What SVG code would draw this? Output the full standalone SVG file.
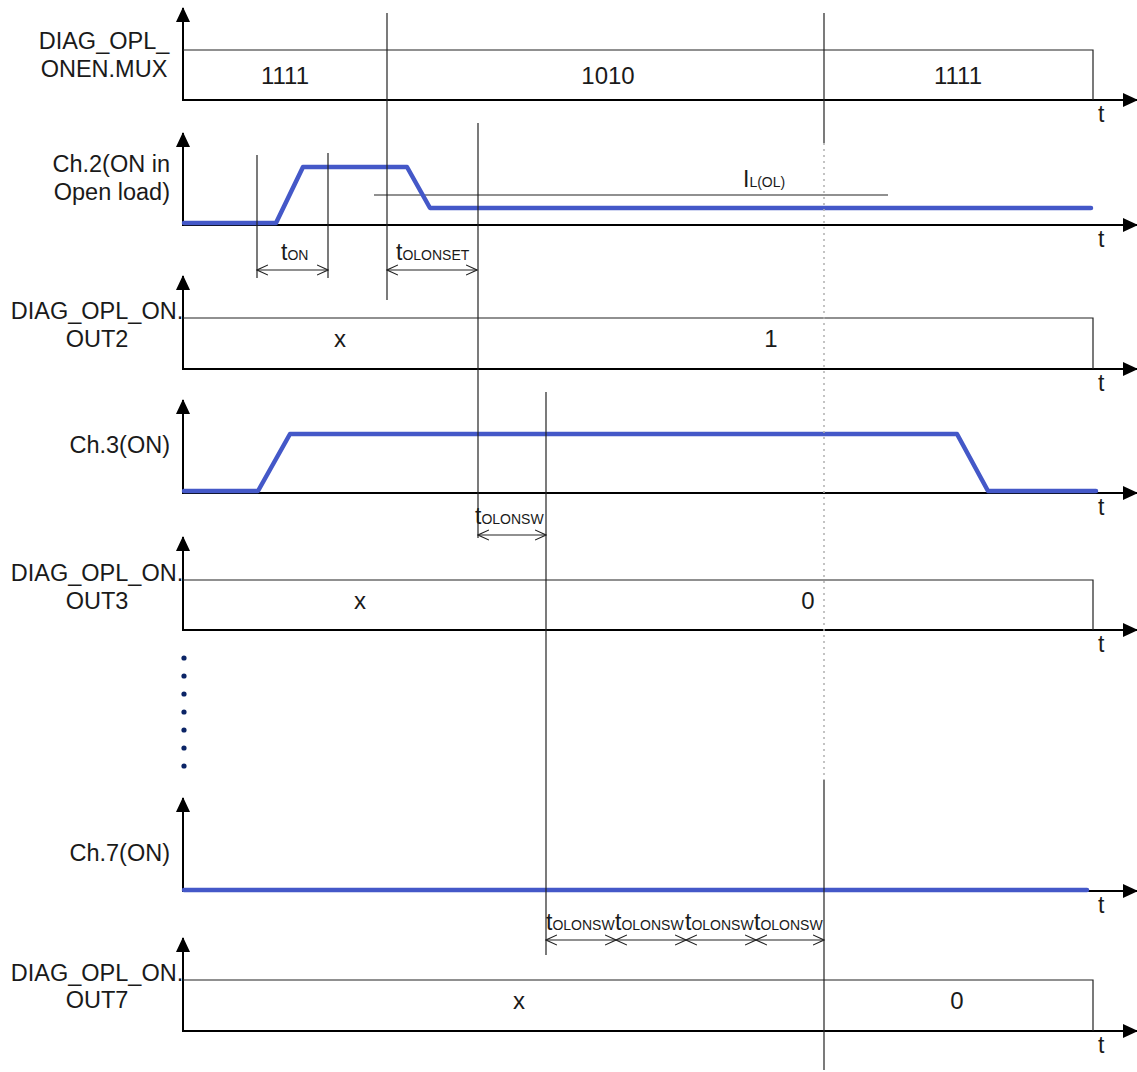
<svg xmlns="http://www.w3.org/2000/svg" width="1137" height="1072" viewBox="0 0 1137 1072">
<style>
.ax{stroke:#000;stroke-width:2;fill:none}
.ln{stroke:#222;stroke-width:1.2;fill:none}
.dim{stroke:#222;stroke-width:1.2;fill:none;marker-start:url(#oa);marker-end:url(#oa)}
.dot{stroke:#b0b0b0;stroke-width:1.5;stroke-dasharray:2 4;fill:none}
.sig{stroke:#4458c8;stroke-width:4.5;fill:none;stroke-linejoin:round;stroke-linecap:round}
text{font-family:"Liberation Sans",Arial,sans-serif;fill:#1a1a1a}
.lb{font-size:23.5px;text-anchor:middle}
.lr{font-size:23.5px;text-anchor:end}
.v{font-size:24px;text-anchor:middle}
.t{font-size:23px}
.s{font-size:14px}
</style>
<defs>
<marker id="ah" markerWidth="15" markerHeight="14" refX="14" refY="7" orient="auto" markerUnits="userSpaceOnUse"><path d="M0,0 L15,7 L0,14 Z" fill="#000"/></marker>
<marker id="oa" markerWidth="12" markerHeight="12" refX="11" refY="6" orient="auto-start-reverse" markerUnits="userSpaceOnUse"><path d="M0,1 L11,6 L0,11" fill="none" stroke="#222" stroke-width="1.1"/></marker>
</defs>

<g id="panel1">
<path class="ax" d="M183,101 V8" marker-end="url(#ah)"/>
<path class="ax" d="M183,100 H1137" marker-end="url(#ah)"/>
<path class="ln" d="M183,50 H1093 V100"/>
<text class="lb" x="104" y="49">DIAG_OPL_</text>
<text class="lb" x="104" y="77">ONEN.MUX</text>
<text class="v" x="285" y="84">1111</text>
<text class="v" x="608" y="84">1010</text>
<text class="v" x="958" y="84">1111</text>
<text class="t" x="1098" y="122">t</text>
</g>

<g id="panel2">
<path class="ax" d="M183,226 V133" marker-end="url(#ah)"/>
<path class="ax" d="M183,225 H1137" marker-end="url(#ah)"/>
<path class="ln" d="M374,195 H888"/>
<path class="sig" d="M184,223 L276,223 L303,167 L407,167 L430,208 L1091,208"/>
<text class="lr" x="170" y="172">Ch.2(ON in</text>
<text class="lr" x="170" y="200">Open load)</text>
<text class="t" x="743" y="187">I<tspan class="s">L(OL)</tspan></text>
<text class="t" x="1098" y="247">t</text>
</g>

<g id="panel3">
<path class="ax" d="M183,370 V276" marker-end="url(#ah)"/>
<path class="ax" d="M183,369 H1137" marker-end="url(#ah)"/>
<path class="ln" d="M183,318 H1093 V369"/>
<text class="lb" x="97" y="319">DIAG_OPL_ON.</text>
<text class="lb" x="97" y="347">OUT2</text>
<text class="v" x="340" y="347">x</text>
<text class="v" x="771" y="347">1</text>
<text class="t" x="1098" y="391">t</text>
</g>

<g id="panel4">
<path class="ax" d="M183,494 V400" marker-end="url(#ah)"/>
<path class="ax" d="M183,493 H1137" marker-end="url(#ah)"/>
<path class="sig" d="M184,491 L258,491 L290,434 L957,434 L988,491 L1096,491"/>
<text class="lr" x="170" y="453">Ch.3(ON)</text>
<text class="t" x="1098" y="515">t</text>
</g>

<g id="panel5">
<path class="ax" d="M183,631 V537" marker-end="url(#ah)"/>
<path class="ax" d="M183,630 H1137" marker-end="url(#ah)"/>
<path class="ln" d="M183,580 H1093 V630"/>
<text class="lb" x="97" y="581">DIAG_OPL_ON.</text>
<text class="lb" x="97" y="609">OUT3</text>
<text class="v" x="360" y="609">x</text>
<text class="v" x="808" y="609">0</text>
<text class="t" x="1098" y="652">t</text>
</g>

<g id="ellipsis" fill="#0b2466">
<circle cx="184" cy="658" r="2.6"/>
<circle cx="184" cy="676" r="2.6"/>
<circle cx="184" cy="694" r="2.6"/>
<circle cx="184" cy="712" r="2.6"/>
<circle cx="184" cy="730" r="2.6"/>
<circle cx="184" cy="748" r="2.6"/>
<circle cx="184" cy="766" r="2.6"/>
</g>

<g id="panel6">
<path class="ax" d="M183,892 V798" marker-end="url(#ah)"/>
<path class="ax" d="M183,891 H1137" marker-end="url(#ah)"/>
<path class="sig" d="M184,890 H1087"/>
<text class="lr" x="170" y="861">Ch.7(ON)</text>
<text class="t" x="1098" y="913">t</text>
</g>

<g id="panel7">
<path class="ax" d="M183,1032 V938" marker-end="url(#ah)"/>
<path class="ax" d="M183,1031 H1137" marker-end="url(#ah)"/>
<path class="ln" d="M183,980 H1093 V1031"/>
<text class="lb" x="97" y="981">DIAG_OPL_ON.</text>
<text class="lb" x="97" y="1008">OUT7</text>
<text class="v" x="519" y="1009">x</text>
<text class="v" x="957" y="1009">0</text>
<text class="t" x="1098" y="1053">t</text>
</g>

<g id="connectors">
<path class="ln" d="M387,13 V300"/>
<path class="ln" d="M824,13 V143"/>
<path class="dot" d="M824,143 V780"/>
<path class="ln" d="M824,780 V1070"/>
<path class="ln" d="M257,155 V278"/>
<path class="ln" d="M328,153 V278"/>
<path class="ln" d="M478,123 V538"/>
<path class="ln" d="M546,392 V955"/>
<path class="dim" d="M257,270 H328"/>
<path class="dim" d="M387,270 H477"/>
<path class="dim" d="M478,535 H546"/>
<path class="dim" d="M546,940 H616"/>
<path class="dim" d="M616,940 H686"/>
<path class="dim" d="M686,940 H756"/>
<path class="dim" d="M756,940 H824"/>
</g>

<g id="timing-labels">
<text class="t" x="281" y="260">t<tspan class="s">ON</tspan></text>
<text class="t" x="396" y="260">t<tspan class="s">OLONSET</tspan></text>
<text class="t" x="475" y="524">t<tspan class="s">OLONSW</tspan></text>
<text class="t" x="546" y="930">t<tspan class="s">OLONSW</tspan></text>
<text class="t" x="615" y="930">t<tspan class="s">OLONSW</tspan></text>
<text class="t" x="685" y="930">t<tspan class="s">OLONSW</tspan></text>
<text class="t" x="754" y="930">t<tspan class="s">OLONSW</tspan></text>
</g>
</svg>
